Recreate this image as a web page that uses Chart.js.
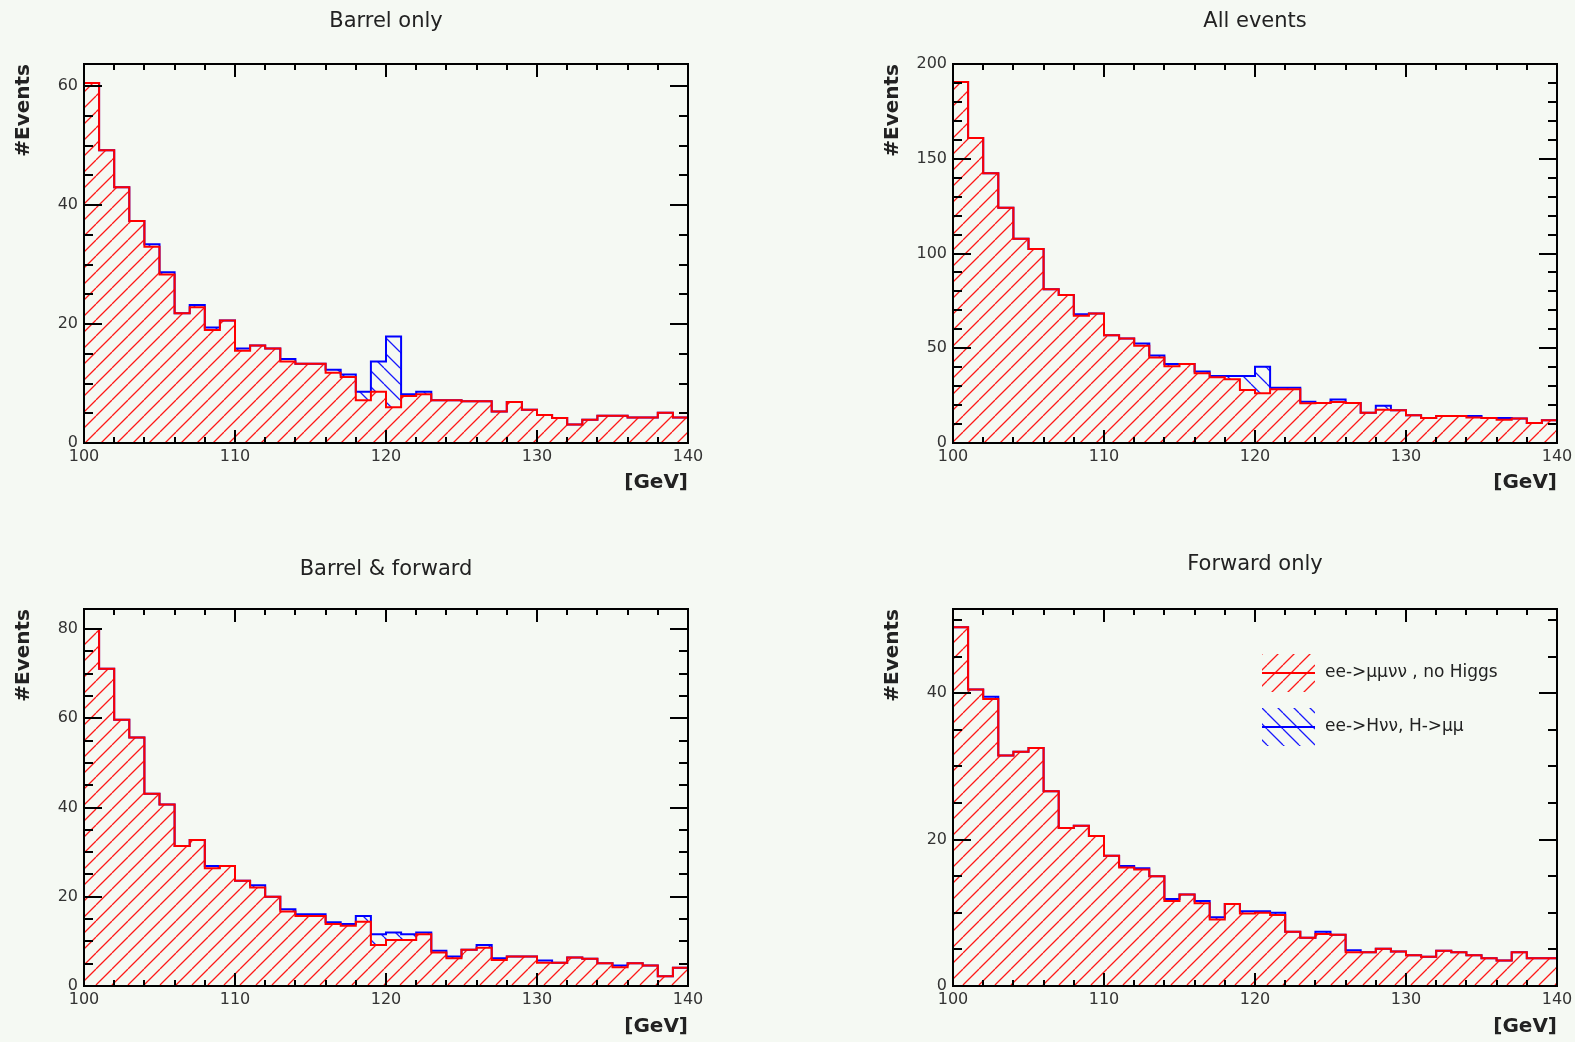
<!DOCTYPE html>
<html><head><meta charset="utf-8">
<script src="https://cdn.jsdelivr.net/npm/chart.js@4.4.1/dist/chart.umd.min.js"></script>
<style>
html,body{margin:0;padding:0;background:#f5f9f3;overflow:hidden;width:1575px;height:1042px;}
canvas{position:absolute;}
</style></head><body>
<canvas id="c1" width="787" height="521" style="left:0px;top:0px"></canvas>
<canvas id="c2" width="788" height="521" style="left:787px;top:0px"></canvas>
<canvas id="c3" width="787" height="521" style="left:0px;top:521px"></canvas>
<canvas id="c4" width="788" height="521" style="left:787px;top:521px"></canvas>
<script>
// ---- data ----
const binEdges = [100,101,102,103,104,105,106,107,108,109,110,111,112,113,114,115,116,117,118,119,120,
                  121,122,123,124,125,126,127,128,129,130,131,132,133,134,135,136,137,138,139,140];
const xTickLabels = [100,110,120,130,140];
const panelTitles = ['Barrel only','All events','Barrel & forward','Forward only'];
const seriesLabels = ['ee->\u03bc\u03bc\u03bd\u03bd , no Higgs', 'ee->H\u03bd\u03bd, H->\u03bc\u03bc'];

const barrelBg  = [60.5,49.2,43.0,37.3,33.0,28.3,21.8,22.8,19.0,20.6,15.5,16.4,15.9,13.7,13.3,13.3,11.8,11.1,7.2,8.6,
                   6.0,7.9,8.2,7.2,7.2,7.0,7.0,5.3,6.9,5.6,4.7,4.2,3.1,3.9,4.6,4.6,4.3,4.3,5.1,4.3];
const barrelSig = [0,0,0,0,0.4,0.4,0,0.4,0.4,0,0.4,0,0,0.4,0,0,0.5,0.4,1.4,5.1,
                   11.9,0.3,0.4,0,0,0,0,0,0,0,0,0,0,0,0,0,0,0,0,0];

const allBg  = [190.5,160.9,142.4,124.1,107.8,102.4,81.1,78.1,67.1,68.4,56.9,55.2,51.3,45.1,40.5,41.7,36.8,34.7,33.6,28.0,
                26.2,28.3,28.3,21.0,21.1,21.7,21.1,15.9,17.6,17.3,14.6,13.2,14.3,14.3,13.4,13.2,12.3,12.9,10.6,12.0];
const allSig = [0,0,0,0,0,0,0,0,0.9,0,0,0,1.2,1.1,1.2,0,0.9,0.7,1.8,7.4,
                14.1,0.9,0.9,0.8,0,1.2,0,0,2.0,0,0,0,0,0,0.9,0,0.9,0,0,0];

const bothBg  = [80.0,71.1,59.7,55.7,43.1,40.7,31.4,32.7,26.4,26.9,23.6,22.1,20.0,16.7,15.7,15.7,13.9,13.5,14.4,9.2,
                 10.3,10.3,11.6,7.5,6.2,8.1,8.6,5.8,6.6,6.6,5.2,5.2,6.4,6.1,5.1,4.2,5.1,4.6,2.2,4.1];
const bothSig = [0,0,0,0,0,0,0,0,0.5,0,0,0.5,0,0.5,0.4,0.4,0.4,0.4,1.3,2.4,
                 1.7,1.3,0.4,0.4,0.4,0,0.6,0.4,0,0,0.5,0,0,0,0,0.4,0,0,0,0];

const fwdBg  = [49.0,40.5,39.2,31.5,32.0,32.5,26.6,21.6,21.9,20.5,17.8,16.2,15.9,15.0,11.6,12.5,11.3,9.1,11.2,9.9,
                10.0,9.7,7.4,6.6,7.1,7.0,4.6,4.6,5.1,4.7,4.2,4.0,4.8,4.6,4.2,3.8,3.5,4.6,3.8,3.8];
const fwdSig = [0,0,0.3,0,0,0,0,0,0,0,0,0.2,0.2,0,0.3,0,0.3,0.3,0,0.3,
                0.2,0.3,0,0,0.3,0,0.3,0,0,0,0,0,0,0,0,0,0,0,0,0];

const yTicksBarrel = [0,20,40,60];
const yTicksAll    = [0,50,100,150,200];
const yTicksBoth   = [0,20,40,60,80];
const yTicksFwd    = [0,20,40];

// ---- helpers ----
const FONT = 'DejaVu Sans';
Chart.defaults.font.family = FONT;

function stepPoints(vals) {
  const pts = vals.map((v, i) => ({x: binEdges[i], y: v}));
  pts.push({x: binEdges[vals.length], y: vals[vals.length - 1]});
  return pts;
}

function hatch(ctx, color, dir) {
  const P = 16;
  const c = document.createElement('canvas');
  c.width = P; c.height = P;
  const g = c.getContext('2d');
  g.strokeStyle = color; g.lineWidth = 1.3;
  g.beginPath();
  for (const o of [-P, 0, P]) {
    if (dir > 0) { g.moveTo(o, P); g.lineTo(o + P, 0); }
    else { g.moveTo(o, 0); g.lineTo(o + P, P); }
  }
  g.stroke();
  return ctx.createPattern(c, 'repeat');
}

function makeFramePlugin(yTicks, yMinorStep) {
  return {
    id: 'histFrame',
    afterDatasetsDraw(chart) {
      const {ctx, chartArea: a, scales: {x, y}} = chart;
      ctx.save();
      ctx.strokeStyle = '#000';
      ctx.lineWidth = 2;
      ctx.beginPath();
      for (let v = x.min; v <= x.max + 1e-9; v += 2) {
        const px = Math.round(x.getPixelForValue(v));
        const L = xTickLabels.includes(v) ? 13 : 6;
        ctx.moveTo(px, a.bottom); ctx.lineTo(px, a.bottom - L);
        ctx.moveTo(px, a.top); ctx.lineTo(px, a.top + L);
      }
      for (let v = 0; v <= y.max + 1e-9; v += yMinorStep) {
        const py = Math.round(y.getPixelForValue(v));
        const L = yTicks.includes(v) ? 18 : 9;
        ctx.moveTo(a.left, py); ctx.lineTo(a.left + L, py);
        ctx.moveTo(a.right, py); ctx.lineTo(a.right - L, py);
      }
      ctx.stroke();
      ctx.strokeRect(a.left, a.top, a.right - a.left, a.bottom - a.top);
      ctx.restore();
    }
  };
}

const legendPlugin = {
  id: 'histLegend',
  afterDraw(chart) {
    const {ctx, chartArea: a} = chart;
    const ds = chart.data.datasets;
    const rows = [{d: ds[0], dy: 64}, {d: ds[1], dy: 118}];
    rows.forEach(r => {
      const x0 = a.left + 309, w = 53, h = 38, cy = a.top + r.dy;
      ctx.save();
      ctx.beginPath();
      ctx.rect(x0, cy - h / 2, w, h);
      ctx.fillStyle = r.d.backgroundColor;
      ctx.fill();
      ctx.strokeStyle = r.d.borderColor;
      ctx.lineWidth = 2;
      ctx.beginPath();
      ctx.moveTo(x0, cy); ctx.lineTo(x0 + w, cy);
      ctx.stroke();
      ctx.fillStyle = '#222';
      ctx.font = '17px "' + FONT + '"';
      ctx.textBaseline = 'middle';
      ctx.textAlign = 'left';
      ctx.fillText(r.d.label, x0 + w + 10, cy);
      ctx.restore();
    });
  }
};

function makeChart(id, title, bg, sig, yMax, yTicks, yMinorStep, g, withLegend) {
  const canvas = document.getElementById(id);
  const W = canvas.width, H = canvas.height;
  const ctx = canvas.getContext('2d');
  const redHatch = hatch(ctx, 'rgba(255,0,0,0.9)', 1);
  const blueHatch = hatch(ctx, 'rgba(0,0,255,0.9)', -1);
  const total = bg.map((v, i) => v + sig[i]);
  const plugins = [makeFramePlugin(yTicks, yMinorStep)];
  if (withLegend) plugins.push(legendPlugin);
  return new Chart(ctx, {
    type: 'line',
    data: {
      datasets: [
        {label: seriesLabels[0], data: stepPoints(bg), borderColor: '#ff0000', backgroundColor: redHatch,
         fill: 'origin', stepped: true, borderWidth: 2, pointRadius: 0, tension: 0},
        {label: seriesLabels[1], data: stepPoints(total), borderColor: '#0000ff', backgroundColor: blueHatch,
         fill: '-1', stepped: true, borderWidth: 2, pointRadius: 0, tension: 0}
      ]
    },
    options: {
      responsive: false, animation: false, devicePixelRatio: 1,
      events: [],
      layout: {padding: {left: 0, right: W - g.right, top: 0, bottom: 0}},
      plugins: {
        legend: {display: false},
        tooltip: {enabled: false},
        title: {
          display: true, text: title, fullSize: false, color: '#222',
          font: {family: FONT, size: 21, weight: 'normal', lineHeight: 1.2},
          padding: {top: g.titleY - 12.6, bottom: g.top - g.titleY - 12.6}
        }
      },
      scales: {
        x: {
          type: 'linear', min: 100, max: 140,
          afterBuildTicks: s => { s.ticks = xTickLabels.map(v => ({value: v})); },
          afterFit: s => { s.height = H - g.bottom; s.paddingLeft = 0; s.paddingRight = 0; },
          grid: {display: false, drawTicks: false},
          border: {display: false},
          ticks: {autoSkip: false, maxRotation: 0, padding: 4, color: '#333',
                  font: {family: FONT, size: 16}, callback: v => String(v)},
          title: {display: true, text: '[GeV]', align: 'end', color: '#222',
                  font: {family: FONT, size: 20, weight: 'bold', lineHeight: 1.2},
                  padding: {top: 0, bottom: (H - g.xTitleY) - 12}}
        },
        y: {
          type: 'linear', min: 0, max: yMax,
          afterBuildTicks: s => { s.ticks = yTicks.map(v => ({value: v})); },
          afterFit: s => { s.width = g.left; s.paddingTop = 0; s.paddingBottom = 0; },
          grid: {display: false, drawTicks: false},
          border: {display: false},
          ticks: {autoSkip: false, padding: 6, color: '#333',
                  font: {family: FONT, size: 16}, callback: v => String(v)},
          title: {display: true, text: '#Events', align: 'end', color: '#222',
                  font: {family: FONT, size: 20, weight: 'bold', lineHeight: 1.2},
                  padding: {top: g.yTitleX - 12, bottom: 0}}
        }
      }
    },
    plugins: plugins
  });
}

makeChart('c1', panelTitles[0], barrelBg, barrelSig, 63.7, yTicksBarrel, 5,
  {left: 84, right: 688, top: 64, bottom: 443, titleY: 22, xTitleY: 483, yTitleX: 24}, false);
makeChart('c2', panelTitles[1], allBg, allSig, 200, yTicksAll, 10,
  {left: 166, right: 770, top: 64, bottom: 443, titleY: 22, xTitleY: 483, yTitleX: 106}, false);
makeChart('c3', panelTitles[2], bothBg, bothSig, 84.5, yTicksBoth, 5,
  {left: 84, right: 688, top: 88, bottom: 465, titleY: 48.5, xTitleY: 505.5, yTitleX: 24}, false);
makeChart('c4', panelTitles[3], fwdBg, fwdSig, 51.5, yTicksFwd, 5,
  {left: 166, right: 770, top: 88, bottom: 465, titleY: 43.5, xTitleY: 505.5, yTitleX: 106}, true);
</script>
</body></html>
